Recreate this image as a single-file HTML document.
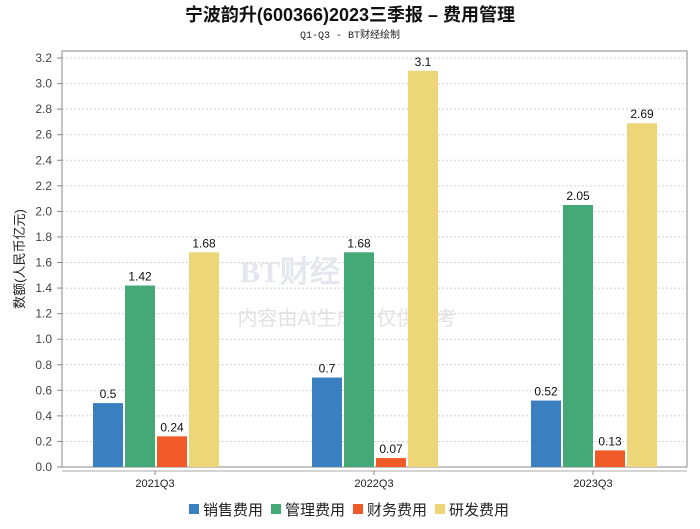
<!DOCTYPE html>
<html><head><meta charset="utf-8"><style>
body{margin:0;background:#fff;font-family:"Liberation Sans","Noto Sans CJK SC",sans-serif}
</style></head><body>
<svg width="700" height="524" xmlns="http://www.w3.org/2000/svg">
<rect width="700" height="524" fill="#fff"/>
<text x="350" y="21" text-anchor="middle" font-size="18" font-weight="bold" fill="#111" font-family="Liberation Sans,Noto Sans CJK SC,sans-serif">宁波韵升(600366)2023三季报 – 费用管理</text>
<text x="350" y="38" text-anchor="middle" font-size="10" fill="#222" font-family="Liberation Mono,Noto Sans CJK SC,monospace">Q1-Q3 - BT财经绘制</text>
<g id="grid"></g>
<rect x="62" y="51" width="625" height="416" fill="none" stroke="#888" stroke-width="1"/>
<line x1="62" y1="471" x2="687" y2="471" stroke="#aaa"/>
<text x="240" y="282" font-size="30" font-weight="bold" fill="#e4e8ee" font-family="Liberation Serif,serif">BT财经</text>
<text x="347" y="325" text-anchor="middle" font-size="20" fill="#e2e2e2">内容由AI生成，仅供参考</text>
<g id="bars"></g>
<text transform="translate(24,259) rotate(-90)" text-anchor="middle" font-size="13" fill="#222">数额(人民币亿元)</text>
<g id="legend"></g>
</svg>
<script>
const categories=["2021Q3","2022Q3","2023Q3"];
const seriesNames=["销售费用","管理费用","财务费用","研发费用"];
const sales=[0.5,0.7,0.52];
const admin=[1.42,1.68,2.05];
const finance=[0.24,0.07,0.13];
const rnd=[1.68,3.1,2.69];
const yTicks=[0,0.2,0.4,0.6,0.8,1.0,1.2,1.4,1.6,1.8,2.0,2.2,2.4,2.6,2.8,3.0,3.2];
const labels=[["0.5","0.7","0.52"],["1.42","1.68","2.05"],["0.24","0.07","0.13"],["1.68","3.1","2.69"]];
const colors=["#3a80c1","#45a977","#f05a28","#edd678"];
const NS="http://www.w3.org/2000/svg";
const y=v=>467-v*127.8;
const x=i=>155+i*219;
function mk(t,a,p){const e=document.createElementNS(NS,t);for(const k in a)e.setAttribute(k,a[k]);p.appendChild(e);return e;}
const grid=document.getElementById('grid');
yTicks.forEach(v=>{
  const l=mk('line',{x1:62,x2:687,y1:y(v),y2:y(v),stroke:'#d4d4d4','stroke-dasharray':'2,2'},grid);
  
  
  mk('line',{x1:57,x2:62,y1:y(v),y2:y(v),stroke:'#888'},grid);
  const t=mk('text',{x:52,y:y(v)+4,'text-anchor':'end','font-size':12,fill:'#444'},grid);
  t.textContent=v.toFixed(1);
  
  
});
const bars=document.getElementById('bars');
const series=[sales,admin,finance,rnd];
categories.forEach((c,i)=>{
  mk('line',{x1:x(i),x2:x(i),y1:471,y2:475,stroke:'#888'},bars);
  const t=mk('text',{x:x(i),y:487,'text-anchor':'middle','font-size':11,fill:'#222'},bars);
  t.textContent=c;
  
  
  series.forEach((s,j)=>{
    const bx=x(i)-62+j*32;
    const r=mk('rect',{x:bx,y:y(s[i]),width:30,height:467-y(s[i]),fill:colors[j]},bars);
    
    
    const lt=mk('text',{x:bx+15,y:y(s[i])-5,'text-anchor':'middle','font-size':12,fill:'#111'},bars);
    lt.textContent=labels[j][i];
    
    
  });
});
const lg=document.getElementById('legend');
seriesNames.forEach((n,j)=>{
  const lx=189+j*82;
  const r=mk('rect',{x:lx,y:504,width:10,height:10,fill:colors[j]},lg);
  
  
  const t=mk('text',{x:lx+14,y:515,'font-size':15,fill:'#222'},lg);
  t.textContent=n;
  
  
});
</script>
</body></html>
